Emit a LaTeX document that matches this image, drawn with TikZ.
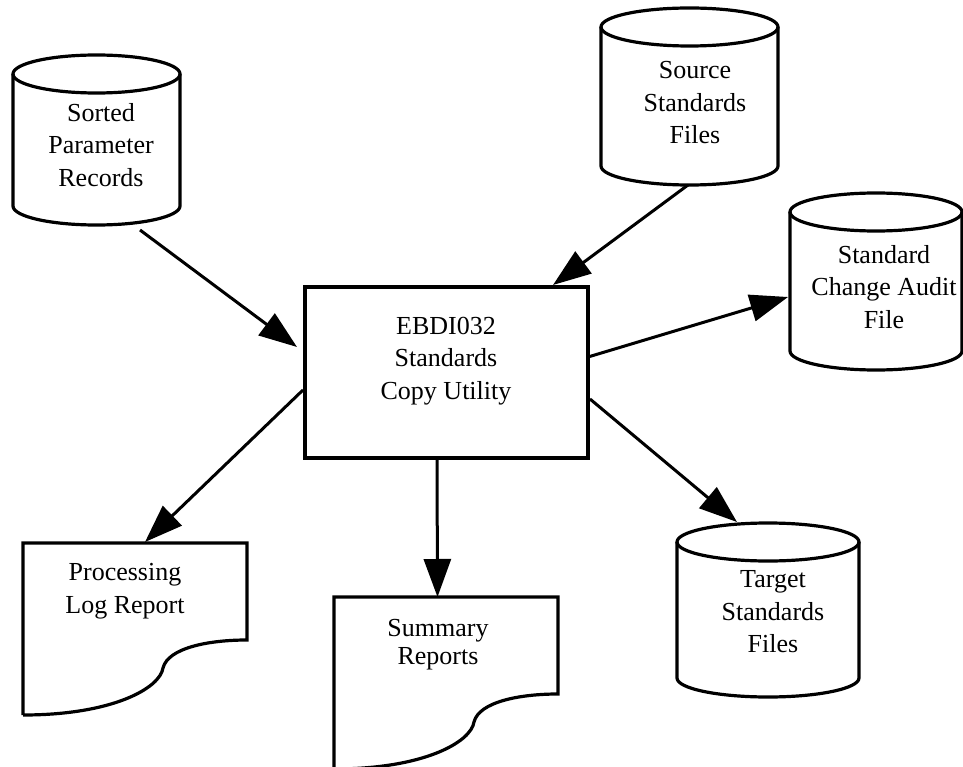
\documentclass[tikz,border=0pt]{standalone}
\usepackage{fontspec}
\setmainfont{Liberation Serif}
\usetikzlibrary{arrows.meta,calc}
\newcommand\dbcyl[2]{%
  \draw[outl] ($(#1.north west)+(0,19)$) -- ($(#1.south west)+(0,-19)$)
     arc[start angle=180,end angle=0,x radius=#2,y radius=19] -- ($(#1.north east)+(0,19)$);
  \draw[outl] ($(#1.north)+(0,19)$) ellipse[x radius=#2,y radius=19];
}
\newcommand\docshape[1]{%
  \draw[outl,line join=miter] (#1.south west) -- (#1.north west) -- (#1.north east) -- ($(#1.north east)+(0,97)$)
    .. controls ($(#1.north west)+(185,97)$) and ($(#1.north west)+(145,105)$) .. ($(#1.north west)+(140,125)$)
    .. controls ($(#1.north west)+(137,145)$) and ($(#1.north west)+(90,172)$) .. (#1.south west);
}
\begin{document}
\begin{tikzpicture}[x=1pt,y=-1pt,
  shapebox/.style={draw=none,inner sep=0pt,outer sep=0pt},
  lbl/.style={align=center,inner sep=0pt,font=\fontsize{26}{32.5}\selectfont},
  outl/.style={line width=3.2pt,line join=round},
  procbox/.style={draw,line width=3.6pt,line join=miter,inner sep=0pt,outer sep=0pt},
  arr/.style={line width=3pt,-{Triangle[length=38pt,width=27pt]}},
]
\useasboundingbox (0,0) rectangle (963,767);

% shapes (bounding boxes)
\node[shapebox,minimum width=167pt,minimum height=170pt] (spr) at (96.5,140) {};
\node[shapebox,minimum width=177pt,minimum height=177pt] (ssf) at (689.5,96.5) {};
\node[shapebox,minimum width=172pt,minimum height=177pt] (sca) at (876,281.5) {};
\node[shapebox,minimum width=182pt,minimum height=174pt] (tsf) at (768,610) {};
\node[procbox,minimum width=283pt,minimum height=171pt] (box) at (446.5,372.5) {};
\node[shapebox,minimum width=224pt,minimum height=172pt] (plr) at (135,629) {};
\node[shapebox,minimum width=224pt,minimum height=172pt] (sr) at (446,683) {};

\dbcyl{spr}{83.5}
\dbcyl{ssf}{88.5}
\dbcyl{sca}{86}
\dbcyl{tsf}{91}
\docshape{plr}
\docshape{sr}

% texts
\node[lbl] (spr-t) at (101,145) {Sorted\\Parameter\\Records};
\node[lbl] (ssf-t) at (695,103) {Source\\Standards\\Files};
\node[lbl] (sca-t) at (884,287) {Standard\\Change Audit\\File};
\node[lbl] (tsf-t) at (773,612) {Target\\Standards\\Files};
\node[lbl] (box-t) at (446,361) {EBDI032\\Standards\\Copy Utility};
\node[lbl] (plr-t) at (125,591) {Processing\\Log Report};
\node[lbl,font=\fontsize{26}{28}\selectfont] (sr-t) at (438,645) {Summary\\Reports};

% connectors
\draw[arr] ($(spr.south)+(43.5,5)$) -- ($(box.west)+(-8,-25.5)$);
\draw[arr] ($(ssf.south)+(-1.5,0)$) -- ($(box.north)+(106.5,-2)$);
\draw[arr] ($(box.east)+(0,-15.5)$) -- ($(sca.west)+(-2,15.5)$);
\draw[arr] ($(box.east)+(2,26.5)$) -- ($(tsf.north)+(-31,-1)$);
\draw[arr] ($(box.west)+(-2,17.5)$) -- ($(plr.north)+(10,-1)$);
\draw[arr] ($(box.south)+(-9.5,0)$) -- ($(sr.north)+(-8.5,0)$);
\end{tikzpicture}
\end{document}
